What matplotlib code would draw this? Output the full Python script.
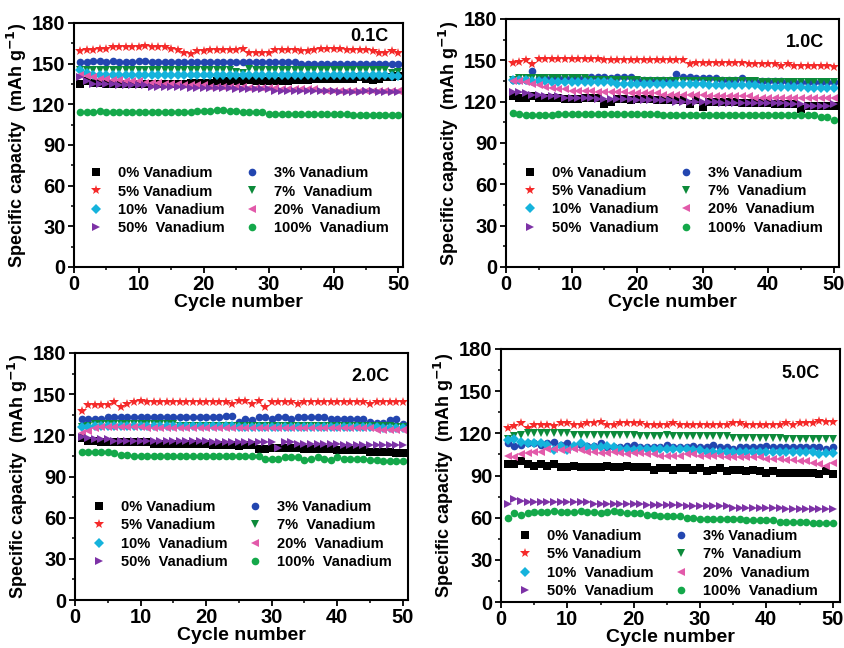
import matplotlib
matplotlib.use("Agg")
import matplotlib.pyplot as plt
import numpy as np

plt.rcParams['font.family'] = ['Liberation Sans', 'DejaVu Sans']
plt.rcParams['font.weight'] = 'bold'
plt.rcParams['mathtext.default'] = 'bf'

cycles = list(range(1, 51))
labels = ["0% Vanadium", "3% Vanadium", "5% Vanadium", "7%  Vanadium",
          "10%  Vanadium", "20%  Vanadium", "50%  Vanadium", "100%  Vanadium"]
rates = ["0.1C", "1.0C", "2.0C", "5.0C"]

# ---- 0.1C ----
c01_v0 = [135,137,136,136,135,135,135,135,135,135, 135,135,135,135,135,135,135,136,136,136,
          136,137,137,137,137,137,138,137,137,137, 137,137,137,138,138,138,139,139,139,139,
          139,139,139,140,139,138,139,140,140,141]
c01_v3 = [151,151,152,152,151,152,151,151,151,152, 152,151,151,151,151,151,151,151,151,151,
          151,151,151,151,151,151,151,151,151,151, 151,151,151,151,150,150,150,150,150,150,
          150,150,150,150,150,150,150,150,150,150]
c01_v5 = [159,160,160,161,161,162,162,162,162,162, 163,162,162,162,161,160,158,157,159,159,
          160,160,160,160,160,161,158,158,158,158, 160,160,160,160,159,159,160,161,161,161,
          161,160,160,160,160,159,158,158,159,158]
c01_v7 = [145,145,145,145,145,145,145,145,145,145, 145,145,145,145,145,145,145,145,145,145,
          145,145,145,145,144,143,146,145,145,145, 145,145,145,145,145,145,145,145,145,145,
          145,145,145,145,145,145,145,145,143,144]
c01_v10 = [145,143,142,142,142,142,142,142,142,142, 142,142,142,142,142,142,142,142,142,142,
           142,142,142,142,142,142,142,142,142,142, 142,142,142,142,142,142,142,142,142,142,
           142,142,142,142,142,142,142,142,141,141]
c01_v20 = [142,141,140,139,139,138,138,137,137,137, 136,136,136,135,135,135,134,134,134,134,
           133,133,133,133,133,133,132,132,132,132, 132,131,131,131,131,131,131,130,130,130,
           130,130,130,130,130,130,130,130,130,130]
c01_v50 = [140,137,135,135,135,135,134,134,134,134, 134,133,133,133,133,133,133,132,132,132,
           132,132,132,132,131,131,131,131,131,131, 130,130,130,130,130,130,130,130,130,130,
           129,129,129,129,130,130,129,129,129,129]
c01_v100 = [114,114,114,115,114,114,114,114,114,114, 114,114,114,114,114,114,114,114,115,115,
            115,116,116,115,115,114,114,114,114,113, 113,113,113,113,113,113,113,113,113,113,
            113,113,112,112,112,112,112,112,112,112]

# ---- 1.0C ----
c10_v0 = [124,123,123,124,123,123,123,123,122,122, 122,123,123,123,118,120,122,122,121,122,
          122,122,121,121,121,121,121,118,121,116, 120,120,120,120,120,119,119,119,119,119,
          118,118,118,118,115,117,117,117,117,117]
c10_v3 = [136,136,136,142,137,137,137,137,137,137, 137,137,138,138,138,137,138,138,138,136,
          136,136,136,136,136,140,138,138,137,137, 137,137,136,136,136,137,135,135,135,135,
          135,135,134,134,134,134,134,134,134,134]
c10_v5 = [148,149,150,147,151,151,151,151,151,151, 151,151,151,151,150,150,150,150,150,150,
          150,150,150,150,150,150,150,147,148,148, 148,148,148,148,148,148,147,147,147,147,
          147,146,147,146,146,146,146,146,146,145]
c10_v7 = [136,137,137,137,137,137,137,137,137,137, 137,137,136,136,136,136,136,136,136,136,
          135,135,135,135,135,135,135,135,135,135, 135,135,135,135,135,135,135,135,134,134,
          134,134,134,134,134,134,134,134,134,134]
c10_v10 = [136,136,136,135,135,135,134,134,134,134, 134,134,134,134,134,134,133,133,133,133,
           133,133,133,133,133,133,133,133,133,133, 132,132,132,132,132,132,132,132,131,131,
           131,131,131,131,131,130,130,130,130,130]
c10_v20 = [135,135,134,133,132,131,130,129,129,128, 128,128,128,127,127,127,127,127,126,126,
           126,126,126,125,125,125,125,125,125,125, 124,124,124,124,124,124,124,123,123,123,
           123,123,123,123,123,123,123,123,123,123]
c10_v50 = [127,127,126,125,125,124,124,124,123,123, 123,123,123,122,122,122,122,122,122,121,
           121,121,121,121,121,120,120,120,120,120, 120,120,119,119,119,119,119,119,119,119,
           119,119,118,118,118,117,117,117,117,118]
c10_v100 = [112,111,110,110,110,110,110,111,111,111, 111,111,111,111,111,111,111,111,111,111,
            111,111,111,110,110,110,110,110,110,110, 110,110,110,110,110,110,110,110,110,110,
            110,110,110,110,110,110,110,109,109,107]

# ---- 2.0C ----
c20_v0 = [118,116,116,115,115,115,115,115,115,115, 115,114,114,114,114,114,114,114,114,114,
          113,113,113,113,112,113,113,110,110,111, 111,111,111,111,110,110,110,110,110,109,
          109,109,109,109,108,108,108,108,107,107]
c20_v3 = [132,132,132,132,133,133,133,133,133,133, 133,133,133,133,133,133,133,133,133,133,
          133,133,134,134,130,132,131,133,133,132, 133,133,132,133,133,133,133,133,132,132,
          132,132,132,132,130,129,129,131,132,128]
c20_v5 = [138,142,142,142,142,144,141,143,144,145, 144,144,144,144,144,144,144,144,144,144,
          144,144,144,143,145,145,143,145,141,144, 144,144,144,143,144,144,144,144,144,144,
          144,144,144,144,143,144,144,144,144,144]
c20_v7 = [126,127,128,128,128,128,128,128,128,128, 128,128,128,128,128,127,127,127,127,127,
          127,127,127,127,127,127,127,127,127,127, 127,127,127,127,127,127,127,127,127,127,
          127,127,127,127,127,127,127,127,126,126]
c20_v10 = [126,126,127,127,127,127,127,127,127,127, 127,127,127,127,127,127,127,127,127,127,
           127,127,127,127,126,126,126,126,126,126, 126,126,126,126,126,126,126,126,126,126,
           126,126,126,126,126,126,125,125,125,125]
c20_v20 = [122,123,125,126,126,126,126,126,126,126, 125,125,125,125,125,125,125,125,125,125,
           125,125,125,125,125,125,125,125,125,125, 125,125,125,125,125,125,125,125,125,125,
           125,125,125,125,125,124,124,124,124,124]
c20_v50 = [119,118,117,117,117,116,116,116,116,116, 116,116,116,116,116,116,116,116,116,116,
           115,115,115,115,115,115,115,115,115,115, 111,115,115,114,114,114,114,114,114,114,
           113,113,113,113,113,113,113,113,113,113]
c20_v100 = [108,108,108,108,108,107,106,106,105,105, 105,105,105,105,105,105,105,105,105,105,
            105,105,105,105,105,105,105,105,103,103, 103,104,104,104,102,103,104,103,102,104,
            103,103,103,103,102,102,101,101,101,101]

# ---- 5.0C ----
c50_v0 = [98,98,100,98,97,98,97,98,96,96, 97,96,96,96,96,97,96,96,97,96,
          96,96,94,95,95,94,95,95,94,95, 93,94,95,93,94,94,93,94,93,92,
          93,92,92,92,92,92,92,91,93,91]
c50_v3 = [113,111,112,113,113,112,113,114,112,113, 111,112,111,111,113,110,110,110,111,112,
          110,110,110,110,112,110,110,110,111,110, 110,112,110,110,109,110,110,110,110,111,
          110,110,110,110,110,110,110,110,109,110]
c50_v5 = [124,125,127,124,126,126,126,125,127,127, 126,126,127,127,128,126,126,127,127,127,
          127,126,126,126,126,127,126,126,126,126, 126,126,126,126,127,127,126,126,126,126,
          126,126,127,126,127,127,127,129,128,128]
c50_v7 = [116,118,119,120,120,120,120,120,120,120, 119,119,119,119,119,119,119,119,119,119,
          118,118,118,118,119,118,118,118,118,118, 118,118,118,118,117,117,117,117,117,117,
          117,117,116,116,116,116,116,116,116,116]
c50_v10 = [115,116,114,113,113,113,112,108,111,108, 111,113,110,110,110,111,110,109,109,108,
           109,109,109,109,109,109,109,109,108,108, 107,107,107,107,107,107,107,107,107,107,
           107,107,107,107,107,107,107,105,106,106]
c50_v20 = [104,103,105,106,107,107,109,109,108,108, 109,108,107,107,106,106,107,106,105,106,
           106,105,105,104,104,104,104,105,105,104, 104,104,104,103,103,103,103,103,103,102,
           102,102,101,101,100,100,99,98,97,99]
c50_v50 = [70,73,72,71,71,71,71,71,71,71, 71,71,71,70,70,70,70,70,70,70,
           70,69,69,69,69,69,69,68,68,68, 68,68,68,68,67,67,67,67,67,67,
           67,67,66,66,66,66,66,66,66,66]
c50_v100 = [60,63,62,63,64,64,64,65,64,64, 64,65,64,64,63,64,65,64,63,63,
            63,62,62,61,61,61,61,60,60,59, 59,59,59,59,59,59,58,58,58,58,
            58,57,57,57,57,57,56,56,56,56]

panels = [
    [c01_v0, c01_v3, c01_v5, c01_v7, c01_v10, c01_v20, c01_v50, c01_v100],
    [c10_v0, c10_v3, c10_v5, c10_v7, c10_v10, c10_v20, c10_v50, c10_v100],
    [c20_v0, c20_v3, c20_v5, c20_v7, c20_v10, c20_v20, c20_v50, c20_v100],
    [c50_v0, c50_v3, c50_v5, c50_v7, c50_v10, c50_v20, c50_v50, c50_v100],
]

markers = ['s', 'o', '*', 'v', 'D', '<', '>', 'o']
colors = ['#000000', '#2346b0', '#f52a2a', '#0c8a3a', '#15b3dc', '#e25aaa', '#7d32a6', '#14a84a']
msizes = [5.2, 5.5, 7.2, 6, 4.8, 6, 6, 5.5]

W, H = 844, 648
boxes = [
    (74, 23, 403, 267),
    (506, 19, 839, 267),
    (75, 353, 408, 600),
    (501, 349, 840, 602),
]
xmax = [50.7, 50.8, 50.8, 51.1]
title_pos = [(0.955, 0.945), (0.955, 0.905), (0.946, 0.905), (0.941, 0.905)]
leg_anchor = [(0.045, 0.13), (0.05, 0.13), (0.05, 0.125), (0.05, 0.015)]

fig = plt.figure(figsize=(W / 100, H / 100), dpi=100)
for i, data in enumerate(panels):
    l, t, r, b = boxes[i]
    ax = fig.add_axes([l / W, 1 - b / H, (r - l) / W, (b - t) / H])
    handles = []
    for j, vals in enumerate(data):
        h, = ax.plot(cycles, vals, linestyle='none', marker=markers[j], color=colors[j],
                     markersize=msizes[j], markeredgewidth=0, label=labels[j])
        handles.append(h)
    ax.set_xlim(0, xmax[i])
    ax.set_ylim(0, 180)
    ax.set_xticks([0, 10, 20, 30, 40, 50])
    ax.set_yticks(range(0, 181, 30))
    ax.set_xticks(range(5, 51, 10), minor=True)
    ax.set_yticks(range(15, 181, 30), minor=True)
    ax.tick_params(which='major', direction='out', length=4, width=1.3, labelsize=14.5, pad=2)
    ax.tick_params(which='minor', direction='out', length=2.5, width=1.1)
    for lab in ax.get_xticklabels() + ax.get_yticklabels():
        lab.set_fontweight('bold')
    for sp in ax.spines.values():
        sp.set_linewidth(1.5)
    ax.set_xlabel('Cycle number', fontsize=14, fontweight='bold', labelpad=0)
    ax.set_ylabel('Specific capacity  (mAh g$^{\\mathbf{-1}}$)', fontsize=13,
                  fontweight='bold', labelpad=2)
    ax.text(title_pos[i][0], title_pos[i][1], rates[i], transform=ax.transAxes,
            ha='right', va='center', fontsize=13, fontweight='bold')
    order = [0, 2, 4, 6, 1, 3, 5, 7]
    ax.legend([handles[k] for k in order], [labels[k] for k in order], ncol=2,
              frameon=False, loc='lower left', bbox_to_anchor=leg_anchor[i],
              borderpad=0, borderaxespad=0, handlelength=1.0,
              handletextpad=1.0, columnspacing=1.4, labelspacing=0.3,
              prop={'weight': 'bold', 'size': 10.5})

fig.savefig('out.png', dpi=100)
